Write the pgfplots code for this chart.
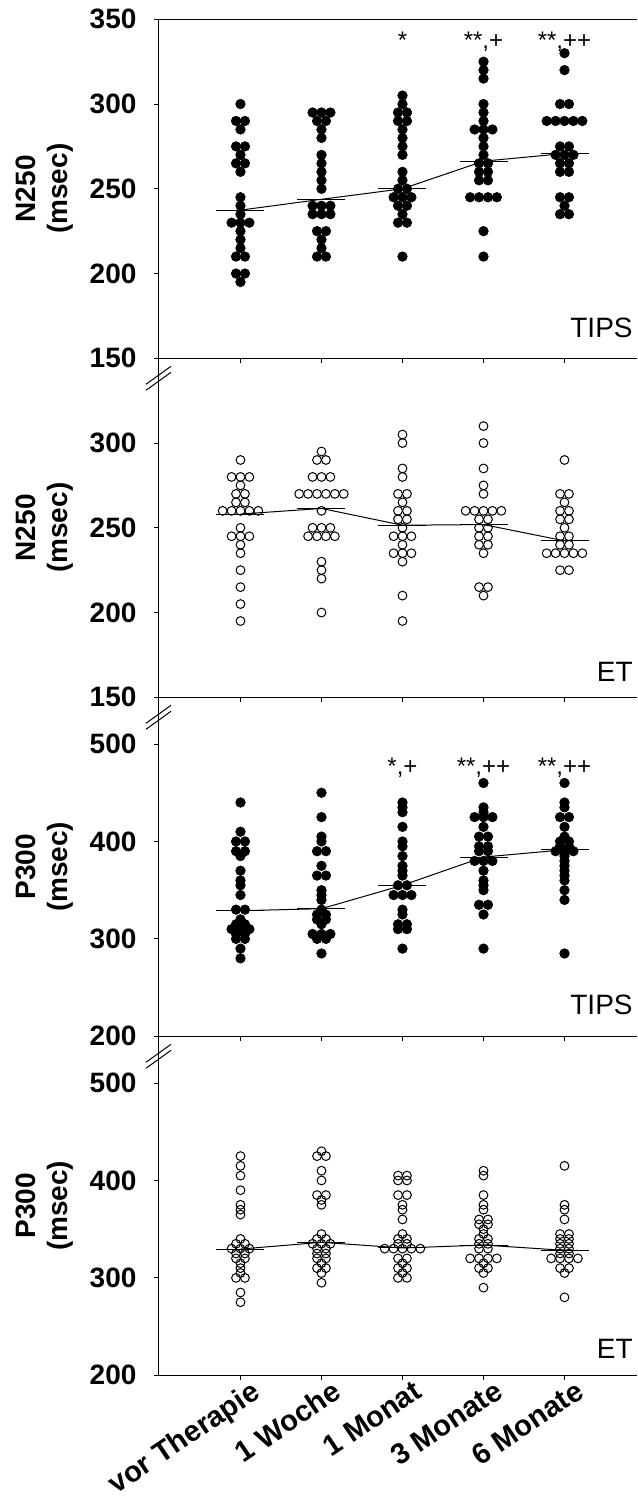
\documentclass[border=0pt]{standalone}
\usepackage{fontspec}
\setmainfont{Liberation Sans}
\usepackage{pgfplots}
\pgfplotsset{compat=1.18}
\pgfplotsset{
 panel/.style={
  scale only axis, width=239.25pt, height=169.5pt,
  xmin=-1.012, xmax=4.895,
  axis x line*=bottom, axis y line*=left,
  axis line style={-, line width=0.5pt, black},
  tick align=outside, major tick length=2.5pt,
  tick style={black, line width=0.5pt},
  xtick={0,1,2,3,4},
  xticklabels={,,,,},
  ticklabel style={font=\fontsize{14}{16}\selectfont\bfseries},
  yticklabel style={xshift=-5pt},
  /pgf/number format/assume math mode=true,
  clip=false,
  every axis y label/.style={at={([xshift=-57pt]axis description cs:0,0.5)}, rotate=90, anchor=center, align=center, font=\fontsize{14}{16}\selectfont\bfseries},
 },
 filled/.style={only marks, mark=*, mark size=2.4pt, mark options={fill=black, draw=black, line width=0.3pt}},
 open/.style={only marks, mark=o, mark size=2.2pt, mark options={draw=black, line width=0.5pt}},
 median/.style={black, line width=0.5pt, mark=-, mark size=12pt, mark options={solid, line width=0.5pt}},
}
\newcommand{\brk}{%
 \draw[line width=0.5pt] ([xshift=-6.25pt,yshift=-16pt]rel axis cs:0,1) -- ++(12.5pt,9pt);
 \draw[line width=0.5pt] ([xshift=-6.25pt,yshift=-13pt]rel axis cs:0,1) -- ++(12.5pt,9pt);}
\newcommand{\ann}[3]{\node[anchor=base, font=\fontsize{12}{14}\selectfont, inner sep=0pt] at (axis cs:#1,#2) {#3};}
\begin{document}
\begin{tikzpicture}
% Panel 1: N250 TIPS
\begin{axis}[panel, at={(79.25pt,572.35pt)}, anchor=south west,
  ymin=150, ymax=350, ytick={150,200,250,300,350}, ylabel={N250\\(msec)}]
\draw[line width=0.5pt] (rel axis cs:0,1) -- (rel axis cs:1,1);
\addplot[filled] coordinates {
(0,300) (-0.055,290)(0.055,290) (0,285) (-0.055,275)(0.055,275) (0,270) (-0.055,265)(0.055,265) (0,260) (0,245) (0,240) (0,235) (-0.11,230)(0,230)(0.11,230) (0,225) (0,220) (0,215) (-0.055,210)(0.055,210) (-0.055,200)(0.055,200) (0,195)
(0.89,295)(1,295)(1.11,295) (0.945,290)(1.055,290) (1,285) (1,280) (1,270)(1,265)(1,260)(1,255)(1,250) (0.89,240)(1,240)(1.11,240) (0.89,235)(1,235)(1.11,235) (0.945,225)(1.055,225) (1,220)(1,215) (0.945,210)(1.055,210)
(2,305)(2,300) (1.945,295)(2.055,295) (1.945,290)(2.055,290) (2,285)(2,280)(2,275)(2,270) (2,260)(2,255) (1.945,250)(2.055,250) (1.89,245)(2,245)(2.11,245) (1.945,240)(2.055,240) (2,235) (1.945,230)(2.055,230) (2,210)
(3,325)(3,320)(3,315) (3,300)(3,295)(3,290) (2.89,285)(3,285)(3.11,285) (3,280)(3,275)(3,270) (2.945,265)(3.055,265) (2.945,260)(3.055,260) (2.945,255)(3.055,255) (2.835,245)(2.945,245)(3.055,245)(3.165,245) (3,225)(3,210)
(4,330)(4,320) (3.945,300)(4.055,300) (3.78,290)(3.89,290)(4,290)(4.11,290)(4.22,290) (3.945,275)(4.055,275) (3.89,270)(4,270)(4.11,270) (3.945,265)(4.055,265) (3.945,260)(4.055,260) (3.945,245)(4.055,245) (4,240) (3.945,235)(4.055,235)
};
\addplot[median] coordinates {(0,237.4)(1,243.8)(2,250)(3,266.3)(4,270.8)};
\ann{2}{333}{*}
\ann{3}{333}{**,+}
\ann{4}{333}{**,++}
\node[anchor=base east, font=\fontsize{14}{16}\selectfont, inner sep=0pt] at ([xshift=-2pt,yshift=10.3pt]rel axis cs:1,0) {TIPS};
\end{axis}
% Panel 2: N250 ET
\begin{axis}[panel, at={(79.25pt,402.85pt)}, anchor=south west,
  ymin=150, ymax=350, ytick={150,200,250,300}, ylabel={N250\\(msec)}]
\brk
\addplot[open] coordinates {
(0,290) (-0.11,280)(0,280)(0.11,280) (0,275) (-0.055,270)(0.055,270) (-0.055,265)(0.055,265) (-0.22,260)(-0.11,260)(0,260)(0.11,260)(0.22,260) (0,250) (-0.11,245)(0,245)(0.11,245) (0,240)(0,235)(0,225)(0,215)(0,205)(0,195)
(1,295) (0.945,290)(1.055,290) (0.89,280)(1,280)(1.11,280) (0.725,270)(0.835,270)(0.945,270)(1.055,270)(1.165,270)(1.275,270) (1,260) (0.89,250)(1,250)(1.11,250) (0.835,245)(0.945,245)(1.055,245)(1.165,245) (1,230)(1,225)(1,220)(1,200)
(2,305)(2,300)(2,285)(2,280) (1.945,270)(2.055,270) (2,265) (1.945,260)(2.055,260) (1.945,255)(2.055,255) (2,250) (1.89,245)(2,245)(2.11,245) (2,240) (1.89,235)(2,235)(2.11,235) (2,230)(2,210)(2,195)
(3,310)(3,300)(3,285)(3,275)(3,270) (2.78,260)(2.89,260)(3,260)(3.11,260)(3.22,260) (2.945,255)(3.055,255) (2.945,250)(3.055,250) (2.945,245)(3.055,245) (2.945,240)(3.055,240) (3,235) (2.945,215)(3.055,215) (3,210)
(4,290) (3.945,270)(4.055,270) (4,265) (3.945,260)(4.055,260) (3.945,255)(4.055,255) (4,250) (3.945,245)(4.055,245) (3.945,240)(4.055,240) (3.78,235)(3.89,235)(4,235)(4.11,235)(4.22,235) (3.945,225)(4.055,225)
};
\addplot[median] coordinates {(0,258.1)(1,261.4)(2,251.5)(3,251.9)(4,242.3)};
\node[anchor=base east, font=\fontsize{14}{16}\selectfont, inner sep=0pt] at ([xshift=-2pt,yshift=7.8pt]rel axis cs:1,0) {ET};
\end{axis}
% Panel 3: P300 TIPS
\begin{axis}[panel, at={(79.25pt,233.35pt)}, anchor=south west,
  ymin=200, ymax=548, ytick={200,300,400,500}, ylabel={P300\\(msec)}]
\brk
\addplot[filled] coordinates {
(0,440)(0,410) (-0.055,400)(0.055,400) (-0.055,390)(0.055,390) (0,385)(0,370)(0,360)(0,355)(0,345) (-0.055,330)(0.055,330) (0,320) (-0.055,315)(0.055,315) (-0.11,310)(0,310)(0.11,310) (-0.055,305)(0.055,305) (-0.055,300)(0.055,300) (0,290)(0,280)
(1,450)(1,425)(1,405)(1,400) (0.945,390)(1.055,390) (1,375) (0.945,365)(1.055,365) (1,350)(1,345)(1,340)(1,330) (0.945,325)(1.055,325) (0.945,320)(1.055,320) (1,315) (0.89,305)(1,305)(1.11,305) (0.945,300)(1.055,300) (1,285)
(2,440)(2,435)(2,430)(2,415)(2,400)(2,395)(2,385)(2,375)(2,370)(2,365) (1.945,355)(2.055,355) (1.89,345)(2,345)(2.11,345) (2,330)(2,325) (1.945,315)(2.055,315) (1.945,310)(2.055,310) (2,290)
(3,460)(3,435)(3,430) (2.89,425)(3,425)(3.11,425) (3,415) (2.945,405)(3.055,405) (2.945,395)(3.055,395) (2.945,390)(3.055,390) (2.89,380)(3,380)(3.11,380) (3,370)(3,360)(3,355)(3,350) (2.945,335)(3.055,335) (3,325)(3,290)
(4,460)(4,440)(4,435) (3.945,425)(4.055,425) (4,415)(4,405) (3.945,400)(4.055,400) (3.945,395)(4.055,395) (3.89,390)(4,390)(4.11,390) (4,385)(4,380)(4,375)(4,370)(4,365)(4,360)(4,350)(4,340)(4,285)
};
\addplot[median] coordinates {(0,328.9)(1,331)(2,355)(3,384)(4,391.5)};
\ann{2}{469}{*,+}
\ann{3}{469}{**,++}
\ann{4}{469}{**,++}
\node[anchor=base east, font=\fontsize{14}{16}\selectfont, inner sep=0pt] at ([xshift=-2pt,yshift=10.8pt]rel axis cs:1,0) {TIPS};
\end{axis}
% Panel 4: P300 ET
\begin{axis}[panel, at={(79.25pt,63.85pt)}, anchor=south west,
  ymin=200, ymax=548, ytick={200,300,400,500}, ylabel={P300\\(msec)},
  xticklabels={vor Therapie,1 Woche,1 Monat,3 Monate,6 Monate},
  xticklabel style={xshift=5pt, yshift=1.5pt, rotate=34, anchor=north east, inner sep=0.5pt, font=\fontsize{14.6}{17}\selectfont\bfseries}]
\brk
\addplot[open] coordinates {
(0,425)(0,415)(0,405)(0,390)(0,375)(0,370)(0,365) (0,340) (-0.055,335)(0.055,335) (-0.11,330)(0,330)(0.11,330) (-0.055,325)(0.055,325) (-0.055,320)(0.055,320) (0,315)(0,310)(0,305) (-0.055,300)(0.055,300) (0,285)(0,275)
(1,430) (0.945,425)(1.055,425) (1,410)(1,400) (0.945,385)(1.055,385) (1,380)(1,375) (1,345) (0.945,340)(1.055,340) (0.89,335)(1,335)(1.11,335) (0.945,330)(1.055,330) (0.945,325)(1.055,325) (0.945,320)(1.055,320) (1,315) (0.945,310)(1.055,310) (1,305)(1,295)
(1.945,405)(2.055,405) (1.945,400)(2.055,400) (1.945,385)(2.055,385) (2,375)(2,370)(2,360)(2,345) (1.945,340)(2.055,340) (1.945,335)(2.055,335) (1.78,330)(1.89,330)(2,330)(2.11,330)(2.22,330) (1.945,320)(2.055,320) (2,315) (1.945,310)(2.055,310) (2,305) (1.945,300)(2.055,300)
(3,410)(3,405)(3,385)(3,375)(3,370) (2.945,360)(3.055,360) (2.945,355)(3.055,355) (3,350)(3,345) (2.945,340)(3.055,340) (2.945,335)(3.055,335) (2.945,330)(3.055,330) (2.835,320)(2.945,320)(3.055,320)(3.165,320) (3,315) (2.945,310)(3.055,310) (3,305)(3,290)
(4,415)(4,375)(4,370)(4,360) (3.945,345)(4.055,345) (3.945,340)(4.055,340) (3.945,335)(4.055,335) (3.945,330)(4.055,330) (3.945,325)(4.055,325) (3.835,320)(3.945,320)(4.055,320)(4.165,320) (3.945,310)(4.055,310) (4,305)(4,280)
};
\addplot[median] coordinates {(0,329.6)(1,336.5)(2,330.7)(3,333.7)(4,328.3)};
\node[anchor=base east, font=\fontsize{14}{16}\selectfont, inner sep=0pt] at ([xshift=-2pt,yshift=8.5pt]rel axis cs:1,0) {ET};
\end{axis}
\pgfresetboundingbox
\path[use as bounding box] (0,0) rectangle (318.5pt,751.5pt);
\end{tikzpicture}
\end{document}
